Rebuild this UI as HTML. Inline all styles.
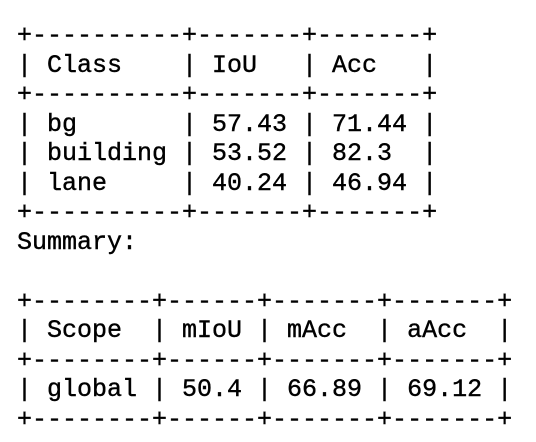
<!DOCTYPE html>
<html><head><meta charset="utf-8"><style>
html,body{margin:0;padding:0;background:#fff;width:536px;height:442px;overflow:hidden}
pre{position:absolute;left:17px;top:21px;margin:0;font-family:"Liberation Mono",monospace;font-size:25px;line-height:29.5px;color:#000;-webkit-text-stroke:0.4px #000}
</style></head><body>
<pre>+----------+-------+-------+
| Class    | IoU   | Acc   |
+----------+-------+-------+
| bg       | 57.43 | 71.44 |
| building | 53.52 | 82.3  |
| lane     | 40.24 | 46.94 |
+----------+-------+-------+
Summary:

+--------+------+-------+-------+
| Scope  | mIoU | mAcc  | aAcc  |
+--------+------+-------+-------+
| global | 50.4 | 66.89 | 69.12 |
+--------+------+-------+-------+</pre>
</body></html>
